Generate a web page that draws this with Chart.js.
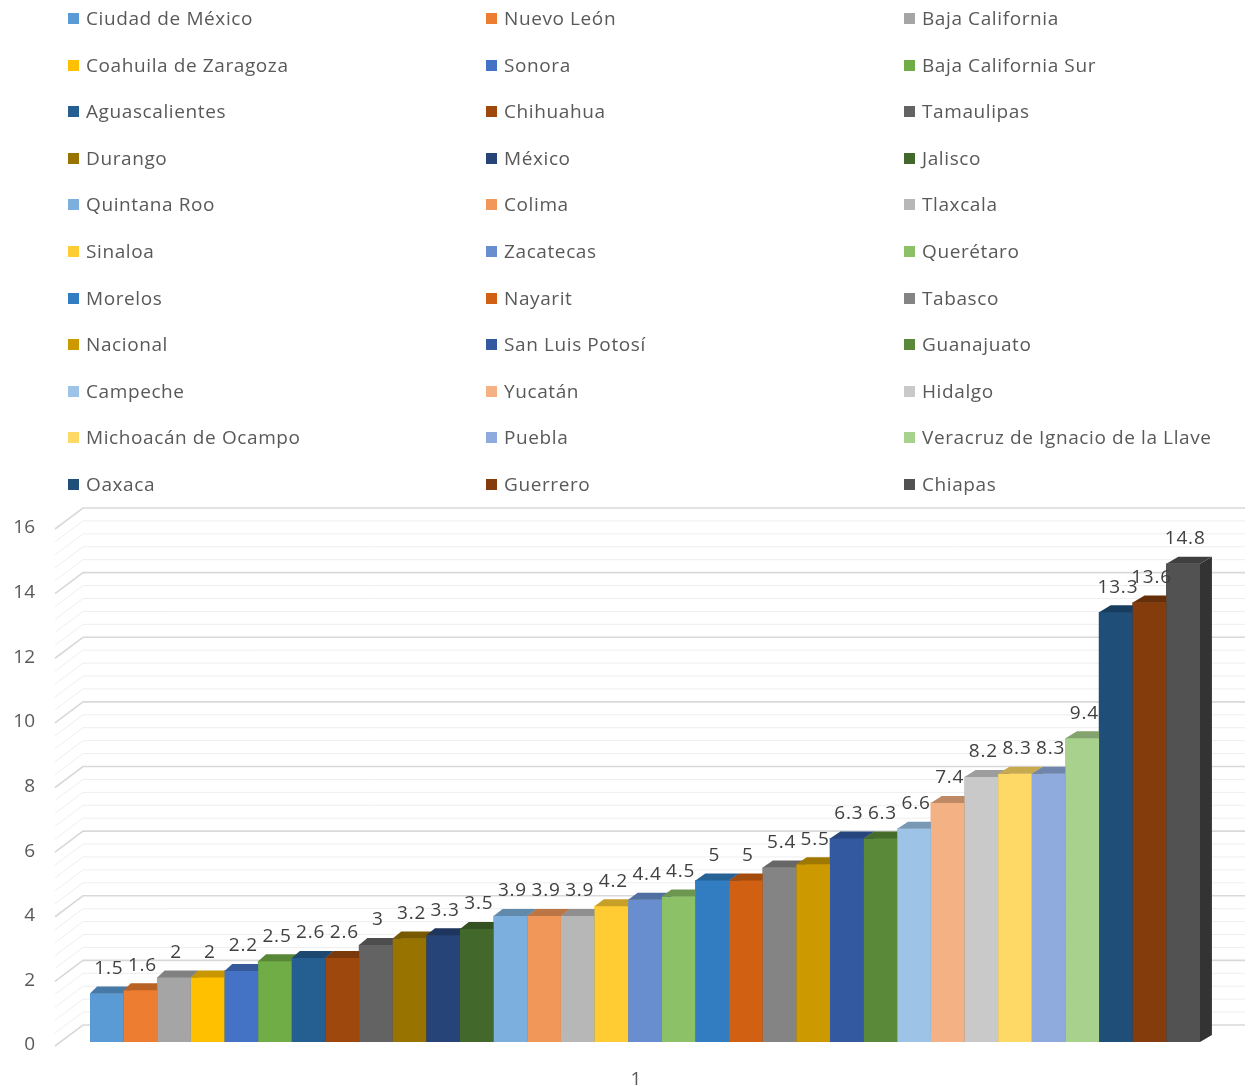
<!DOCTYPE html>
<html>
<head>
<meta charset="utf-8">
<script src="https://cdn.jsdelivr.net/npm/chart.js@4.4.1/dist/chart.umd.min.js"></script>
<style>
    body { margin: 0; background: #fff; }
    #wrap { position: relative; width: 1248px; height: 1086px; }
    #chart { position: absolute; left: 0; top: 0; }
    #legend { position: absolute; left: 0; top: 0; width: 1248px; font-family: 'Open Sans', sans-serif; font-size: 19px; letter-spacing: 0.6px; color: #595959; }
    .item { position: absolute; display: flex; align-items: center; white-space: nowrap; height: 24px; }
    .box { width: 11px; height: 11px; margin-right: 7px; }
</style>
</head>
<body>
<div id="wrap">
    <canvas id="chart" width="1248" height="1086"></canvas>
    <div id="legend"></div>
</div>
<script>
const categories = ['1'];
const states = [
    'Ciudad de México', 'Nuevo León', 'Baja California',
    'Coahuila de Zaragoza', 'Sonora', 'Baja California Sur',
    'Aguascalientes', 'Chihuahua', 'Tamaulipas',
    'Durango', 'México', 'Jalisco',
    'Quintana Roo', 'Colima', 'Tlaxcala',
    'Sinaloa', 'Zacatecas', 'Querétaro',
    'Morelos', 'Nayarit', 'Tabasco',
    'Nacional', 'San Luis Potosí', 'Guanajuato',
    'Campeche', 'Yucatán', 'Hidalgo',
    'Michoacán de Ocampo', 'Puebla', 'Veracruz de Ignacio de la Llave',
    'Oaxaca', 'Guerrero', 'Chiapas'
];
const values = [
    1.5, 1.6, 2, 2, 2.2, 2.5, 2.6, 2.6, 3, 3.2, 3.3,
    3.5, 3.9, 3.9, 3.9, 4.2, 4.4, 4.5, 5, 5, 5.4, 5.5,
    6.3, 6.3, 6.6, 7.4, 8.2, 8.3, 8.3, 9.4, 13.3, 13.6, 14.8
];
const colors = [
    '#5B9BD5', '#ED7D31', '#A5A5A5', '#FFC000', '#4472C4', '#70AD47',
    '#255E91', '#9E480E', '#636363', '#997300', '#264478', '#43682B',
    '#7CAFDD', '#F1975A', '#B7B7B7', '#FFCD33', '#698ED0', '#8CC168',
    '#327DC2', '#D26012', '#848484', '#CC9A00', '#335AA1', '#5A8A39',
    '#9DC3E6', '#F4B183', '#C9C9C9', '#FFD966', '#8FAADC', '#A9D18E',
    '#1F4E79', '#843C0C', '#525252'
];
const yTicks = [0, 2, 4, 6, 8, 10, 12, 14, 16];

const FONT = "'Open Sans', sans-serif";

function shade(hex, f) {
    const n = parseInt(hex.slice(1), 16);
    const r = Math.round(((n >> 16) & 255) * f);
    const g = Math.round(((n >> 8) & 255) * f);
    const b = Math.round((n & 255) * f);
    return `rgb(${r},${g},${b})`;
}

function poly(ctx, pts) {
    ctx.beginPath();
    ctx.moveTo(pts[0][0], pts[0][1]);
    pts.slice(1).forEach(p => ctx.lineTo(p[0], p[1]));
    ctx.closePath();
    ctx.fill();
}

// back wall + side wall gridlines, then 3D faces and value labels
const wallPlugin = {
    id: 'wall3d',
    beforeDatasetsDraw(chart) {
        const { ctx, chartArea: area } = chart;
        const ys = chart.scales.y;
        ctx.save();
        for (let k = 40; k >= 0; k--) {
            const yy = ys.getPixelForValue(k * 0.4);
            const major = k % 5 === 0;
            ctx.strokeStyle = major ? '#d9d9d9' : '#eeeeee';
            ctx.lineWidth = major ? 1.6 : 1;
            ctx.beginPath();
            ctx.moveTo(area.left - 35, yy + 4);
            ctx.lineTo(area.left - 7, yy - 17);
            ctx.lineTo(area.right + 45, yy - 17);
            ctx.stroke();
        }
        ctx.restore();
    },
    afterDatasetsDraw(chart) {
        const { ctx, chartArea: area } = chart;
        ctx.save();
        chart.data.datasets.forEach((ds, i) => {
            const bar = chart.getDatasetMeta(i).data[0];
            const { x, y, base, width } = bar.getProps(['x', 'y', 'base', 'width'], true);
            const l = x - width / 2, r = x + width / 2;
            const dx = 7 + 5 * (x - area.left) / area.width;
            const dy = -7;
            ctx.fillStyle = ds.backgroundColor;
            ctx.fillRect(l, y, width, base - y);
            ctx.fillStyle = shade(ds.backgroundColor, 0.62);
            poly(ctx, [[r, y], [r + dx, y + dy], [r + dx, base + dy], [r, base]]);
            ctx.fillStyle = shade(ds.backgroundColor, 0.78);
            poly(ctx, [[l, y], [l + dx, y + dy], [r + dx, y + dy], [r, y]]);
        });
        ctx.font = `19px ${FONT}`;
        ctx.letterSpacing = '0.8px';
        ctx.fillStyle = '#404040';
        ctx.textAlign = 'center';
        ctx.textBaseline = 'middle';
        chart.data.datasets.forEach((ds, i) => {
            const bar = chart.getDatasetMeta(i).data[0];
            const { x, y } = bar.getProps(['x', 'y'], true);
            ctx.fillText(String(ds.data[0]), x + 2, y - 25);
        });
        ctx.restore();
    }
};

document.addEventListener('DOMContentLoaded', () => {
    const ctx = document.getElementById('chart').getContext('2d');
    const chart = new Chart(ctx, {
        type: 'bar',
        data: {
            labels: categories,
            datasets: states.map((name, i) => ({
                label: name,
                data: [values[i]],
                backgroundColor: colors[i],
                borderWidth: 0,
                barPercentage: 1,
                categoryPercentage: 1
            }))
        },
        options: {
            responsive: false,
            animation: false,
            layout: { padding: { top: 525, right: 48, bottom: 0, left: 0 } },
            plugins: {
                legend: { display: false },
                tooltip: { enabled: false }
            },
            scales: {
                x: {
                    grid: { display: false },
                    border: { display: false },
                    ticks: { color: '#595959', font: { family: FONT, size: 19 }, padding: 18, labelOffset: -9 },
                    afterFit: s => { s.height = 44; }
                },
                y: {
                    min: 0,
                    max: 16,
                    afterBuildTicks: s => { s.ticks = yTicks.map(v => ({ value: v })); },
                    grid: { display: false },
                    border: { display: false },
                    ticks: { color: '#595959', font: { family: FONT, size: 19 }, padding: 47, labelOffset: 3 },
                    afterFit: s => {
                        s.width = 90;
                        s.paddingTop = 0;
                        s.paddingBottom = 0;
                    }
                }
            }
        },
        plugins: [wallPlugin]
    });

    // Legend in three columns
    const legend = document.getElementById('legend');
    const colX = [68, 486, 904];
    legend.innerHTML = chart.data.datasets.map((ds, i) => `
        <div class="item" style="left:${colX[i % 3]}px;top:${Math.round(18 + Math.floor(i / 3) * 46.6 - 12)}px">
            <span class="box" style="background:${ds.backgroundColor}"></span>${ds.label}
        </div>
    `).join('');
});
</script>
</body>
</html>
